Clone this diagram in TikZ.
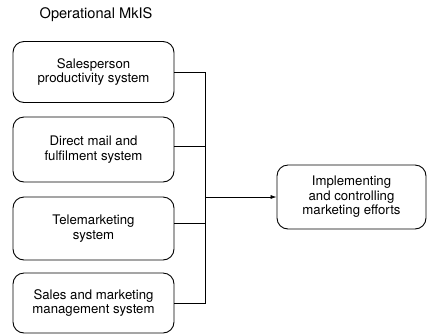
\documentclass[tikz,border=0pt]{standalone}
\usepackage{fontspec}
\setmainfont{TeX Gyre Heros}
\usetikzlibrary{arrows.meta}
\begin{document}
\begin{tikzpicture}[x=1pt,y=-1pt,
  sysbox/.style={draw, line width=0.9pt, rounded corners=11pt, align=center,
    font=\fontsize{13.2}{14.5}\selectfont, inner sep=0pt},
  conn/.style={line width=0.7pt},
  lbl/.style={font=\fontsize{14.6}{16}\selectfont, inner sep=0pt}]
\useasboundingbox (0,0) rectangle (428,333);
\node[lbl] (title) at (96,15) {Operational MkIS};
\node[sysbox, minimum width=161pt, minimum height=61pt] (b1) at (93.5,72) {Salesperson\\productivity system};
\node[sysbox, minimum width=161pt, minimum height=65pt] (b2) at (93.5,149.5) {Direct mail and\\fulfilment system};
\node[sysbox, minimum width=161pt, minimum height=63pt] (b3) at (93.5,228.5) {Telemarketing\\system};
\node[sysbox, minimum width=161pt, minimum height=60pt] (b4) at (93.5,303) {Sales and marketing\\management system};
\node[sysbox, minimum width=149pt, minimum height=64pt] (out) at (351.5,197) {Implementing\\and controlling\\marketing efforts};
\coordinate (j1) at (205,72);
\coordinate (j2) at (205,146);
\coordinate (j3) at (205,223);
\coordinate (j4) at (205,303);
\coordinate (ja) at (205,197);
\draw[conn] (b1.east) -- (j1) -- (j4) -- (b4.east);
\draw[conn] (b2.east |- j2) -- (j2);
\draw[conn] (b3.east |- j3) -- (j3);
\draw[conn, -{Latex[length=6pt,width=4pt]}] (ja) -- (out.west);
\end{tikzpicture}
\end{document}
